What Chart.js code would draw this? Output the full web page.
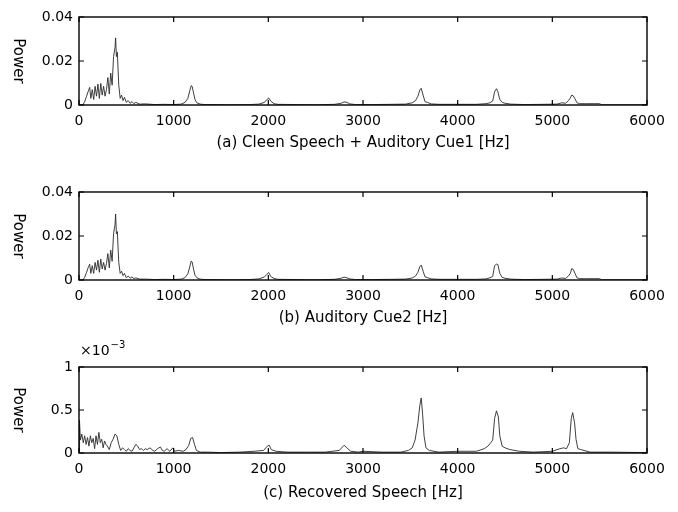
<!DOCTYPE html>
<html>
<head>
<meta charset="utf-8">
<script src="https://cdn.jsdelivr.net/npm/chart.js@4"></script>
<style>
  html, body { margin: 0; padding: 0; background: #fff; }
  #wrap { position: relative; width: 678px; height: 512px; }
  .panel { position: absolute; left: 0; width: 678px; }
</style>
</head>
<body>
<div id="wrap">
  <div class="panel" style="top:0;height:165px"><canvas id="chartA"></canvas></div>
  <div class="panel" style="top:165px;height:170px"><canvas id="chartB"></canvas></div>
  <div class="panel" style="top:335px;height:177px"><canvas id="chartC"></canvas></div>
</div>
<script>
/* ---------- data ---------- */

// shared frequency grid for panels (a) and (b), Hz
const freqAB = [0, 40, 60, 80, 100, 113, 125, 140, 155, 170, 185, 200, 215, 230, 245, 260, 275, 290, 305, 320,
  335, 350, 365, 380, 387, 395, 405, 420, 435, 450, 465, 480, 500, 520, 540, 560, 580, 600, 640, 700,
  800, 900, 1000, 1080, 1120, 1150, 1170, 1185, 1195, 1210, 1225, 1245, 1280, 1330, 1400, 1600, 1800, 1900, 1960, 1985,
  2005, 2025, 2060, 2100, 2300, 2500, 2700, 2770, 2800, 2830, 2860, 2920, 3100, 3300, 3450, 3520, 3555, 3580, 3600, 3615,
  3635, 3655, 3680, 3720, 3800, 4000, 4200, 4300, 4340, 4370, 4390, 4410, 4425, 4445, 4470, 4500, 4560, 4700, 4900, 5050,
  5100, 5140, 5170, 5190, 5205, 5220, 5240, 5260, 5290, 5350, 5450, 5500, 5520, 5600, 6000];

// (a) clean speech + auditory cue 1
const powerA = [0, 0, 0.0015, 0.004, 0.0065, 0.008, 0.003, 0.007, 0.0025, 0.0085, 0.004, 0.0095, 0.003, 0.0098, 0.0045, 0.0085, 0.004, 0.007, 0.0125, 0.005,
  0.0145, 0.009, 0.022, 0.026, 0.0305, 0.022, 0.024, 0.009, 0.003, 0.0045, 0.002, 0.0035, 0.0012, 0.002, 0.0008, 0.0015, 0.0006, 0.0012, 0.0004, 0.0005,
  0.0002, 0.0003, 0.0002, 0.0004, 0.0012, 0.003, 0.0065, 0.0088, 0.0085, 0.0055, 0.0025, 0.001, 0.0004, 0.0002, 0.0002, 0.0001, 0.0002, 0.0004, 0.0012, 0.0025,
  0.0032, 0.0018, 0.0006, 0.0003, 0.0002, 0.0001, 0.0003, 0.0008, 0.0014, 0.0012, 0.0005, 0.0002, 0.0002, 0.0003, 0.0004, 0.001, 0.002, 0.004, 0.0068, 0.0076,
  0.0045, 0.0015, 0.0012, 0.0005, 0.0003, 0.0003, 0.0003, 0.0006, 0.001, 0.0018, 0.006, 0.0074, 0.006, 0.0025, 0.0012, 0.0008, 0.0004, 0.0002, 0.0003, 0.0004,
  0.001, 0.0008, 0.002, 0.0032, 0.0045, 0.0042, 0.0028, 0.001, 0.0006, 0.0006, 0.0006, 0.0006, 0.0001, 0.0001, 0.0001];

// (b) auditory cue 2
const powerB = [0, 0, 0.0012, 0.0035, 0.006, 0.0072, 0.003, 0.0065, 0.003, 0.008, 0.0045, 0.009, 0.0035, 0.0095, 0.005, 0.008, 0.0045, 0.0075, 0.012, 0.0055,
  0.0136, 0.0085, 0.021, 0.025, 0.030, 0.021, 0.022, 0.008, 0.003, 0.004, 0.002, 0.003, 0.001, 0.0018, 0.0008, 0.0014, 0.0006, 0.001, 0.0004, 0.0004,
  0.0002, 0.0003, 0.0002, 0.0004, 0.0011, 0.0028, 0.006, 0.0086, 0.0082, 0.005, 0.0022, 0.001, 0.0004, 0.0002, 0.0002, 0.0001, 0.0002, 0.0005, 0.0014, 0.0026,
  0.0034, 0.0016, 0.0007, 0.0003, 0.0002, 0.0001, 0.0003, 0.0008, 0.0013, 0.001, 0.0005, 0.0002, 0.0002, 0.0003, 0.0004, 0.0009, 0.0018, 0.0035, 0.006, 0.0068,
  0.004, 0.0014, 0.0011, 0.0005, 0.0003, 0.0003, 0.0003, 0.0005, 0.001, 0.0016, 0.0065, 0.0072, 0.007, 0.003, 0.0012, 0.0008, 0.0004, 0.0002, 0.0003, 0.0004,
  0.0009, 0.0007, 0.0018, 0.003, 0.0052, 0.0048, 0.003, 0.001, 0.0006, 0.0006, 0.0006, 0.0006, 0.0001, 0.0001, 0.0001];

// (c) recovered speech, frequency grid in Hz and power in units of 1e-3
const freqC = [0, 5, 15, 30, 45, 60, 75, 90, 105, 120, 135, 150, 165, 180, 195, 210, 225, 240, 255, 270,
  285, 300, 320, 340, 360, 380, 400, 420, 440, 460, 480, 500, 520, 540, 560, 580, 600, 620, 640, 660,
  680, 700, 720, 750, 780, 800, 830, 860, 880, 900, 930, 960, 990, 1010, 1050, 1100, 1130, 1160, 1180, 1200,
  1220, 1240, 1280, 1350, 1500, 1700, 1850, 1950, 1990, 2010, 2030, 2080, 2200, 2400, 2600, 2750, 2800, 2830, 2870, 2950,
  3000, 3200, 3400, 3480, 3520, 3550, 3580, 3600, 3615, 3630, 3645, 3665, 3700, 3800, 4000, 4200, 4280, 4320, 4350, 4370,
  4390, 4410, 4430, 4445, 4470, 4500, 4550, 4650, 4800, 5000, 5080, 5120, 5150, 5180, 5200, 5215, 5235, 5250, 5270, 5300,
  5400, 5600, 6000];
const powerC = [0, 0.38, 0.15, 0.22, 0.12, 0.2, 0.1, 0.18, 0.08, 0.2, 0.12, 0.17, 0.05, 0.2, 0.1, 0.24, 0.12, 0.16, 0.06, 0.14,
  0.1, 0.08, 0.04, 0.12, 0.16, 0.22, 0.2, 0.1, 0.03, 0.06, 0.04, 0.02, 0.05, 0.03, 0.02, 0.06, 0.1, 0.08, 0.04, 0.05,
  0.03, 0.05, 0.04, 0.06, 0.03, 0.02, 0.05, 0.07, 0.03, 0.02, 0.05, 0.02, 0.06, 0.02, 0.03, 0.02, 0.04, 0.09, 0.17, 0.18,
  0.1, 0.03, 0.01, 0.01, 0.005, 0.01, 0.02, 0.03, 0.08, 0.09, 0.04, 0.02, 0.01, 0.01, 0.01, 0.03, 0.09, 0.06, 0.02, 0.01,
  0.02, 0.01, 0.01, 0.03, 0.06, 0.15, 0.35, 0.55, 0.64, 0.45, 0.2, 0.06, 0.03, 0.01, 0.02, 0.02, 0.05, 0.08, 0.12, 0.15,
  0.4, 0.49, 0.42, 0.2, 0.08, 0.06, 0.04, 0.02, 0.01, 0.02, 0.05, 0.06, 0.05, 0.12, 0.4, 0.47, 0.35, 0.16, 0.05, 0.04,
  0.01, 0.01, 0.005];

// tick labels
const xTicks = [0, 1000, 2000, 3000, 4000, 5000, 6000];
const yTicksAB = [0, 0.02, 0.04];
const yTicksC = [0, 0.5, 1];

const FONT = "'DejaVu Sans', sans-serif";

/* ---------- box, inward ticks, captions ---------- */
const matlabAxesPlugin = {
  id: 'matlabAxes',
  afterDraw(chart, args, opts) {
    const { ctx, chartArea: a, scales } = chart;
    ctx.save();

    // box
    ctx.strokeStyle = '#000';
    ctx.lineWidth = 1.4;
    ctx.strokeRect(a.left, a.top, a.right - a.left, a.bottom - a.top);

    // inward ticks
    const TL = 5;
    ctx.lineWidth = 1.2;
    ctx.beginPath();
    xTicks.forEach(v => {
      const px = scales.x.getPixelForValue(v);
      ctx.moveTo(px, a.bottom); ctx.lineTo(px, a.bottom - TL);
      ctx.moveTo(px, a.top); ctx.lineTo(px, a.top + TL);
    });
    opts.yTicks.forEach(v => {
      const py = scales.y.getPixelForValue(v);
      ctx.moveTo(a.left, py); ctx.lineTo(a.left + TL, py);
      ctx.moveTo(a.right, py); ctx.lineTo(a.right - TL, py);
    });
    ctx.stroke();

    // "Power" reading downward
    ctx.fillStyle = '#000';
    ctx.font = '15px ' + FONT;
    ctx.textAlign = 'center';
    ctx.textBaseline = 'middle';
    ctx.save();
    ctx.translate(18, (a.top + a.bottom) / 2);
    ctx.rotate(Math.PI / 2);
    ctx.fillText('Power', 0, 0);
    ctx.restore();

    // caption under the axis
    ctx.fillText(opts.caption, (a.left + a.right) / 2, a.bottom + opts.captionGap);

    // exponent marker
    if (opts.exponent) {
      ctx.textAlign = 'left';
      ctx.textBaseline = 'alphabetic';
      ctx.font = '14px ' + FONT;
      ctx.fillText('\u00d710', a.left + 1, a.top - 12);
      const w = ctx.measureText('\u00d710').width;
      ctx.font = '10px ' + FONT;
      ctx.fillText('\u22123', a.left + 2 + w, a.top - 19);
    }
    ctx.restore();
  }
};

function makePanel(id, freq, power, yTicks, yMax, padTop, axisH, caption, captionGap, exponent) {
  const points = freq.map((f, i) => ({ x: f, y: power[i] }));
  return new Chart(document.getElementById(id), {
    type: 'line',
    data: {
      datasets: [{
        data: points,
        borderColor: '#2a2a2a',
        borderWidth: 0.9,
        pointRadius: 0,
        tension: 0,
        fill: false
      }]
    },
    options: {
      responsive: true,
      maintainAspectRatio: false,
      animation: false,
      layout: { padding: { left: 0, right: 31, top: padTop, bottom: 0 } },
      plugins: {
        legend: { display: false },
        tooltip: { enabled: false },
        matlabAxes: { yTicks, caption, captionGap, exponent }
      },
      scales: {
        x: {
          type: 'linear',
          min: 0,
          max: 6000,
          grid: { display: false, drawTicks: false },
          border: { display: false },
          afterBuildTicks: s => { s.ticks = xTicks.map(v => ({ value: v })); },
          afterFit: s => { s.height = axisH; },
          ticks: {
            padding: 8,
            maxRotation: 0,
            color: '#000',
            font: { family: FONT, size: 14 },
            callback: v => String(v)
          }
        },
        y: {
          min: 0,
          max: yMax,
          grid: { display: false, drawTicks: false },
          border: { display: false },
          afterBuildTicks: s => { s.ticks = yTicks.map(v => ({ value: v })); },
          afterFit: s => { s.width = 79; },
          ticks: {
            padding: 6,
            color: '#000',
            font: { family: FONT, size: 14 },
            callback: v => String(v)
          }
        }
      }
    },
    plugins: [matlabAxesPlugin]
  });
}

makePanel('chartA', freqAB, powerA, yTicksAB, 0.04, 17, 60,
  '(a) Cleen Speech + Auditory Cue1 [Hz]', 38, false);
makePanel('chartB', freqAB, powerB, yTicksAB, 0.04, 27, 55,
  '(b) Auditory Cue2 [Hz]', 38, false);
makePanel('chartC', freqC, powerC, yTicksC, 1, 32, 59,
  '(c) Recovered Speech [Hz]', 40, true);
</script>
</body>
</html>
